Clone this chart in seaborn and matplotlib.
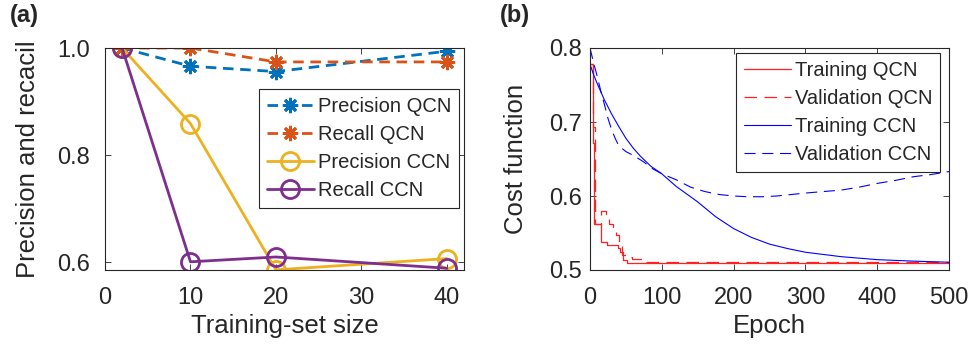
import numpy as np
import pandas as pd
import matplotlib
matplotlib.use("Agg")
import matplotlib.pyplot as plt
import seaborn as sns

# ---------------- data: panel (a) ----------------
train_size = [2, 10, 20, 40]
precision_qcn = [1.0, 0.966, 0.956, 0.994]
recall_qcn = [1.0, 1.0, 0.974, 0.974]
precision_ccn = [1.0, 0.859, 0.586, 0.607]
recall_ccn = [1.0, 0.601, 0.610, 0.589]

# ---------------- data: panel (b) ----------------
ep_train_qcn = [0, 4, 6, 16, 24, 39, 42, 46, 51, 500]
cost_train_qcn = [0.778, 0.671, 0.562, 0.538, 0.534, 0.530, 0.524, 0.514, 0.510, 0.510]

ep_val_qcn = [0, 4, 7, 16, 22, 27, 32, 36, 40, 44, 52, 58, 76, 500]
cost_val_qcn = [0.778, 0.693, 0.562, 0.580, 0.575, 0.562, 0.558, 0.547, 0.535, 0.520,
                0.518, 0.515, 0.511, 0.511]

ep_train_ccn = [0, 5, 10, 20, 30, 40, 50, 60, 70, 85, 100, 120, 150, 175, 200, 225,
                250, 275, 300, 350, 400, 450, 500]
cost_train_ccn = [0.778, 0.764, 0.752, 0.730, 0.711, 0.694, 0.678, 0.665, 0.654, 0.640,
                  0.630, 0.613, 0.592, 0.572, 0.556, 0.544, 0.535, 0.529, 0.524, 0.518,
                  0.514, 0.512, 0.5105]

ep_val_ccn = [0, 5, 10, 15, 20, 25, 30, 35, 40, 50, 60, 75, 85, 100, 120, 140, 160,
              180, 200, 220, 240, 260, 280, 300, 325, 350, 375, 400, 425, 450, 475, 500]
cost_val_ccn = [0.800, 0.780, 0.762, 0.742, 0.724, 0.705, 0.690, 0.678, 0.668, 0.660,
                0.655, 0.646, 0.638, 0.630, 0.622, 0.612, 0.606, 0.602, 0.600, 0.599,
                0.599, 0.600, 0.602, 0.604, 0.606, 0.608, 0.612, 0.617, 0.621, 0.626,
                0.629, 0.633]

sns.set_style("ticks")
plt.rcParams["font.family"] = ["Liberation Sans", "DejaVu Sans"]
plt.rcParams["axes.linewidth"] = 0.8

fig = plt.figure(figsize=(9.74, 3.5), dpi=100)
W, H = 974, 350
axA = fig.add_axes([105 / W, 1 - 270 / H, 359 / W, 222 / H])
axB = fig.add_axes([590 / W, 1 - 270 / H, 359 / W, 222 / H])

blue, orange, yellow, purple = "#0072BD", "#D95319", "#EDB120", "#7E2F8E"
asterisk = (8, 2, 0)
TXT = "#262626"
LBL = 18.5
TICK = 17
LEG = 14.5

sns.lineplot(x=train_size, y=precision_qcn, ax=axA, color=blue, lw=2,
             linestyle=(0, (3.8, 2.4)), marker=asterisk, markersize=11,
             mew=2, mec=blue, label="Precision QCN")
sns.lineplot(x=train_size, y=recall_qcn, ax=axA, color=orange, lw=2,
             linestyle=(0, (3.8, 2.4)), marker=asterisk, markersize=11,
             mew=2, mec=orange, label="Recall QCN")
sns.lineplot(x=train_size, y=precision_ccn, ax=axA, color=yellow, lw=2,
             marker="o", markersize=13, mew=2, mfc="none", mec=yellow,
             label="Precision CCN")
sns.lineplot(x=train_size, y=recall_ccn, ax=axA, color=purple, lw=2,
             marker="o", markersize=13, mew=2, mfc="none", mec=purple,
             label="Recall CCN")

axA.set_xlim(0, 42)
axA.set_ylim(0.5857, 1.0)
axA.set_xticks([0, 10, 20, 30, 40])
axA.set_yticks([0.6, 0.8, 1.0])
axA.set_yticklabels(["0.6", "0.8", "1.0"])
axA.set_xlabel("Training-set size", fontsize=LBL)
axA.set_ylabel("Precision and recacil", fontsize=LBL)
axA.yaxis.set_label_coords(-0.182, 0.5)
axA.xaxis.set_label_coords(0.5, -0.2)
axA.tick_params(axis="y", pad=11)
legA = axA.legend(loc="upper right", bbox_to_anchor=(0.986, 0.815), borderaxespad=0,
                  fontsize=LEG, frameon=True, fancybox=False, framealpha=1,
                  edgecolor=TXT, handlelength=2.3, handletextpad=0.2,
                  labelspacing=0.45, borderpad=0.4)
legA.get_frame().set_linewidth(0.8)

sns.lineplot(x=ep_train_qcn, y=cost_train_qcn, ax=axB, color="#ff2020", lw=0.9,
             drawstyle="steps-post", label="Training QCN")
sns.lineplot(x=ep_val_qcn, y=cost_val_qcn, ax=axB, color="#ff2020", lw=0.9,
             drawstyle="steps-post", linestyle=(0, (10, 6)), label="Validation QCN")
sns.lineplot(x=ep_train_ccn, y=cost_train_ccn, ax=axB, color="blue", lw=0.8,
             label="Training CCN")
sns.lineplot(x=ep_val_ccn, y=cost_val_ccn, ax=axB, color="blue", lw=0.8,
             linestyle=(0, (10, 6)), label="Validation CCN")

axB.set_xlim(0, 500)
axB.set_ylim(0.5, 0.8)
axB.set_xticks([0, 100, 200, 300, 400, 500])
axB.set_yticks([0.5, 0.6, 0.7, 0.8])
axB.set_xlabel("Epoch", fontsize=LBL)
axB.set_ylabel("Cost function", fontsize=LBL)
axB.yaxis.set_label_coords(-0.172, 0.5)
axB.xaxis.set_label_coords(0.5, -0.2)
axB.tick_params(axis="y", pad=6)
legB = axB.legend(loc="upper right", bbox_to_anchor=(0.976, 0.977), borderaxespad=0,
                  fontsize=LEG, frameon=True, fancybox=False, framealpha=1,
                  edgecolor=TXT, handlelength=2.3, handletextpad=0.2,
                  labelspacing=0.45, borderpad=0.4)
legB.get_frame().set_linewidth(0.8)

for ax in (axA, axB):
    ax.tick_params(direction="in", length=4, width=0.6, top=True, right=True,
                   labelsize=TICK, colors=TXT, labelcolor=TXT)
    ax.tick_params(axis="x", pad=12)
    for s in ax.spines.values():
        s.set_visible(True)
        s.set_color(TXT)
    ax.xaxis.label.set_color(TXT)
    ax.yaxis.label.set_color(TXT)

fig.text(10 / W, 1 - 4 / H, "(a)", fontsize=17, fontweight="bold", va="top", ha="left")
fig.text(500 / W, 1 - 4 / H, "(b)", fontsize=17, fontweight="bold", va="top", ha="left")

fig.savefig("out.png", dpi=100)
